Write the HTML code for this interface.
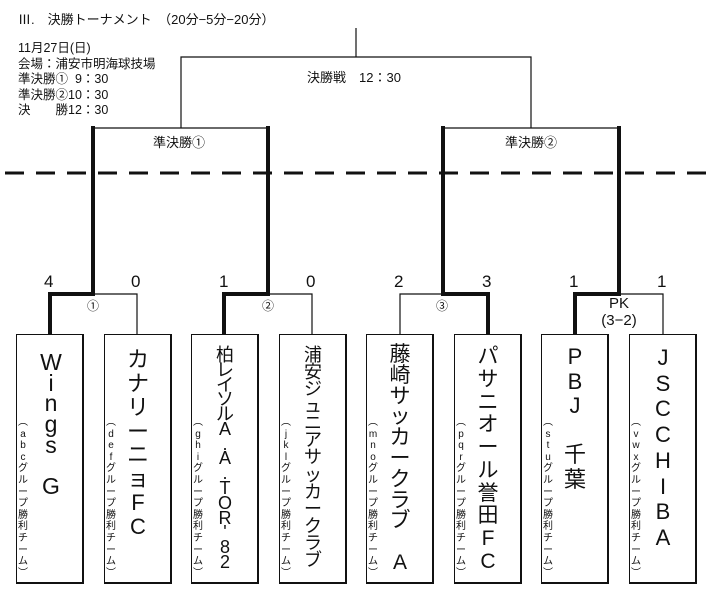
<!DOCTYPE html>
<html><head><meta charset="utf-8">
<style>
html,body{margin:0;width:713px;height:590px;overflow:hidden}
body{background:#fff;position:relative;font-family:"Liberation Sans","Noto Sans CJK JP",sans-serif;color:#111}
.t{position:absolute;white-space:pre;line-height:1}
.box{position:absolute;top:334px;height:250px;border:1px solid #111;border-right-width:2px;border-bottom-width:2px;box-sizing:border-box;width:68px}
.col{position:absolute;display:flex;flex-direction:column;justify-content:space-between;align-items:center;line-height:1}
.col span{display:block;height:0;overflow:visible;line-height:1}
.sub{font-size:10px}
</style></head><body>
<svg width="713" height="590" style="position:absolute;left:0;top:0">
<g stroke="#111" fill="none" stroke-width="1.2">
<line x1="356" y1="28" x2="356" y2="57"/>
<polyline points="181,128 181,57 531,57 531,128"/>
<line x1="93" y1="128" x2="268" y2="128"/>
<line x1="443" y1="128" x2="619" y2="128"/>
<polyline points="93,294 137,294 137,334"/>
<polyline points="268,294 312,294 312,334"/>
<polyline points="400,334 400,294 443,294"/>
<polyline points="619,294 663,294 663,334"/>
</g>
<g stroke="#111" fill="none" stroke-width="4" stroke-linejoin="miter">
<polyline points="50,334 50,294 93,294 93,126"/>
<polyline points="224,334 224,294 268,294 268,126"/>
<polyline points="443,126 443,294 488,294 488,334"/>
<polyline points="575,334 575,294 619,294 619,126"/>
</g>
<line x1="5" y1="173" x2="713" y2="173" stroke="#111" stroke-width="3" stroke-dasharray="19,12"/>
</svg>

<div class="t" style="left:18px;top:13px;font-size:13px">Ⅲ.　決勝トーナメント　（20分−5分−20分）</div>
<div class="t" style="left:18px;top:41px;font-size:12.5px;line-height:15.5px">11月27日(日)
会場：浦安市明海球技場
準決勝①  9：30
準決勝②10：30
決　　勝12：30</div>
<div class="t" style="left:307px;top:71px;font-size:13px">決勝戦　12：30</div>
<div class="t" style="left:153px;top:136px;font-size:13px">準決勝①</div>
<div class="t" style="left:505px;top:136px;font-size:13px">準決勝②</div>

<div class="t" style="left:44px;top:273px;font-size:17px">4</div>
<div class="t" style="left:131px;top:273px;font-size:17px">0</div>
<div class="t" style="left:219px;top:273px;font-size:17px">1</div>
<div class="t" style="left:306px;top:273px;font-size:17px">0</div>
<div class="t" style="left:394px;top:273px;font-size:17px">2</div>
<div class="t" style="left:482px;top:273px;font-size:17px">3</div>
<div class="t" style="left:569px;top:273px;font-size:17px">1</div>
<div class="t" style="left:657px;top:273px;font-size:17px">1</div>
<div class="t" style="left:87px;top:300px;font-size:12px">①</div>
<div class="t" style="left:262px;top:300px;font-size:12px">②</div>
<div class="t" style="left:436px;top:300px;font-size:12px">③</div>
<div class="t" style="left:599px;top:296px;font-size:15px;text-align:center;width:40px">PK</div>
<div class="t" style="left:594px;top:313px;font-size:15px;text-align:center;width:50px">(3−2)</div>

<div class="box" style="left:16px"></div>
<div class="box" style="left:104px"></div>
<div class="box" style="left:191px"></div>
<div class="box" style="left:279px"></div>
<div class="box" style="left:366px"></div>
<div class="box" style="left:454px"></div>
<div class="box" style="left:541px"></div>
<div class="box" style="left:629px"></div>

<div class="col" style="left:39px;width:24px;top:351px;height:124px;font-size:23px"><span>W</span><span>i</span><span>n</span><span>g</span><span>s</span><span>&nbsp;</span><span>G</span></div>
<div class="col" style="left:126px;width:24px;top:349px;height:167px;font-size:22px"><span>カ</span><span>ナ</span><span>リ</span><span>ー</span><span>ニ</span><span>ョ</span><span>F</span><span>C</span></div>
<div class="col" style="left:213px;width:24px;top:346px;height:207px;font-size:18px"><span>柏</span><span>レ</span><span>イ</span><span>ソ</span><span>ル</span><span>A</span><span>.</span><span>A</span><span>.</span><span>T</span><span>O</span><span>R</span><span>'</span><span>8</span><span>2</span></div>
<div class="col" style="left:301px;width:24px;top:346px;height:205px;font-size:18px"><span>浦</span><span>安</span><span>ジ</span><span>ュ</span><span>ニ</span><span>ア</span><span>サ</span><span>ッ</span><span>カ</span><span>ー</span><span>ク</span><span>ラ</span><span>ブ</span></div>
<div class="col" style="left:388px;width:24px;top:344px;height:208px;font-size:21px"><span>藤</span><span>崎</span><span>サ</span><span>ッ</span><span>カ</span><span>ー</span><span>ク</span><span>ラ</span><span>ブ</span><span>&nbsp;</span><span>A</span></div>
<div class="col" style="left:476px;width:24px;top:346px;height:205px;font-size:21px"><span>パ</span><span>サ</span><span>ニ</span><span>オ</span><span>ー</span><span>ル</span><span>誉</span><span>田</span><span>F</span><span>C</span></div>
<div class="col" style="left:563px;width:24px;top:346px;height:123px;font-size:22px"><span>P</span><span>B</span><span>J</span><span>&nbsp;</span><span>千</span><span>葉</span></div>
<div class="col" style="left:651px;width:24px;top:347px;height:180px;font-size:22px"><span>J</span><span>S</span><span>C</span><span>C</span><span>H</span><span>I</span><span>B</span><span>A</span></div>

<div class="col sub" style="left:17px;width:12px;top:418px;height:151px"><span>︵</span><span>a</span><span>b</span><span>c</span><span>グ</span><span>ル</span><span>ー</span><span>プ</span><span>勝</span><span>利</span><span>チ</span><span>ー</span><span>ム</span><span>︶</span></div>
<div class="col sub" style="left:105px;width:12px;top:418px;height:151px"><span>︵</span><span>d</span><span>e</span><span>f</span><span>グ</span><span>ル</span><span>ー</span><span>プ</span><span>勝</span><span>利</span><span>チ</span><span>ー</span><span>ム</span><span>︶</span></div>
<div class="col sub" style="left:192px;width:12px;top:418px;height:151px"><span>︵</span><span>g</span><span>h</span><span>i</span><span>グ</span><span>ル</span><span>ー</span><span>プ</span><span>勝</span><span>利</span><span>チ</span><span>ー</span><span>ム</span><span>︶</span></div>
<div class="col sub" style="left:280px;width:12px;top:418px;height:151px"><span>︵</span><span>j</span><span>k</span><span>l</span><span>グ</span><span>ル</span><span>ー</span><span>プ</span><span>勝</span><span>利</span><span>チ</span><span>ー</span><span>ム</span><span>︶</span></div>
<div class="col sub" style="left:367px;width:12px;top:418px;height:151px"><span>︵</span><span>m</span><span>n</span><span>o</span><span>グ</span><span>ル</span><span>ー</span><span>プ</span><span>勝</span><span>利</span><span>チ</span><span>ー</span><span>ム</span><span>︶</span></div>
<div class="col sub" style="left:455px;width:12px;top:418px;height:151px"><span>︵</span><span>p</span><span>q</span><span>r</span><span>グ</span><span>ル</span><span>ー</span><span>プ</span><span>勝</span><span>利</span><span>チ</span><span>ー</span><span>ム</span><span>︶</span></div>
<div class="col sub" style="left:542px;width:12px;top:418px;height:151px"><span>︵</span><span>s</span><span>t</span><span>u</span><span>グ</span><span>ル</span><span>ー</span><span>プ</span><span>勝</span><span>利</span><span>チ</span><span>ー</span><span>ム</span><span>︶</span></div>
<div class="col sub" style="left:630px;width:12px;top:418px;height:151px"><span>︵</span><span>v</span><span>w</span><span>x</span><span>グ</span><span>ル</span><span>ー</span><span>プ</span><span>勝</span><span>利</span><span>チ</span><span>ー</span><span>ム</span><span>︶</span></div>
</body></html>
